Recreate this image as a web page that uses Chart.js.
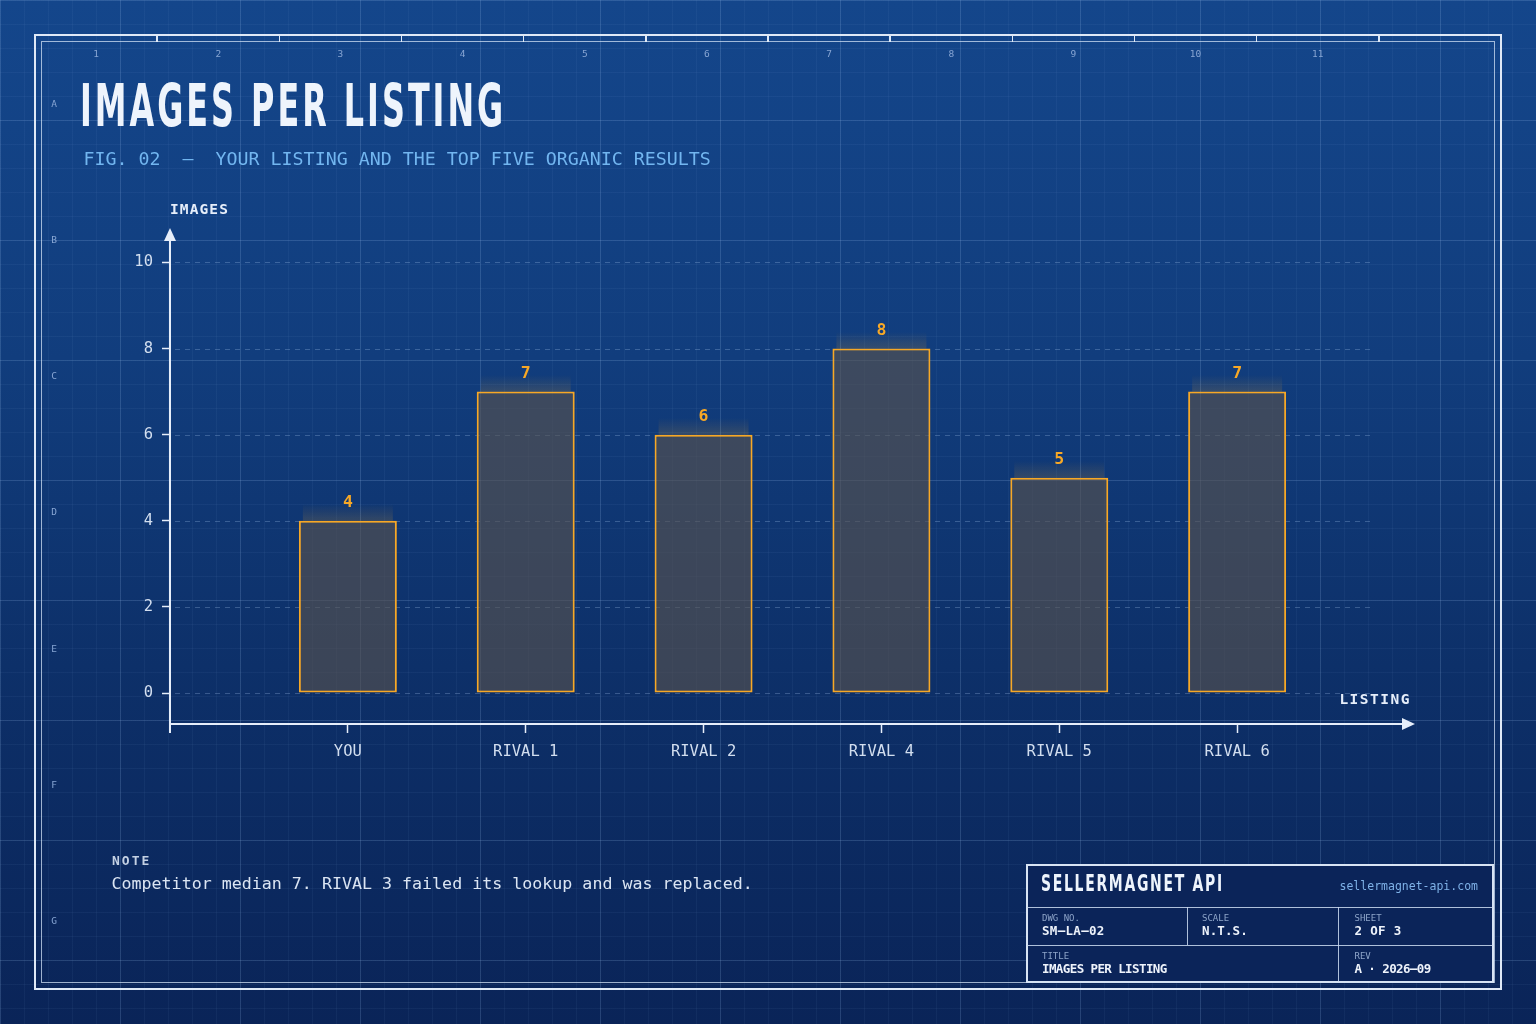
<!DOCTYPE html>
<html>
<head>
<meta charset="utf-8">
<script src="https://cdn.jsdelivr.net/npm/chart.js@4.4.1/dist/chart.umd.min.js"></script>
<style>
html,body{margin:0;padding:0;background:#0b2459;}
#stage{position:relative;width:1536px;height:1024px;overflow:hidden;
  font-family:"DejaVu Sans Mono",monospace;
  background-color:#0f3672;
  background-image:
    linear-gradient(to bottom, rgba(160,195,240,0.15) 1px, transparent 1px),
    linear-gradient(to right, rgba(160,195,240,0.15) 1px, transparent 1px),
    linear-gradient(to bottom, rgba(160,195,240,0.055) 1px, transparent 1px),
    linear-gradient(to right, rgba(160,195,240,0.055) 1px, transparent 1px),
    linear-gradient(180deg,#14468b 0%,#113d7d 35%,#0d3069 65%,#0a2458 100%);
  background-size:120px 120px,120px 120px,24px 24px,24px 24px,100% 100%;
}
.t{position:absolute;white-space:pre;line-height:1;z-index:4;}
.ln{position:absolute;z-index:4;}
#chart{position:absolute;left:0;top:0;z-index:2;}
.cond{font-family:"DejaVu Sans Condensed","DejaVu Sans",sans-serif;font-weight:bold;transform-origin:0 50%;}
.lbl{font-size:9px;color:#8ea5c9;}
.val{font-size:12.5px;font-weight:bold;color:#eef3fb;}
</style>
</head>
<body>
<div id="stage">
  <div class="ln" style="left:34px;top:34px;width:1468px;height:956px;box-sizing:border-box;border:2px solid #dfe9f7;"></div>
  <div class="ln" style="left:41px;top:41px;width:1454px;height:942px;box-sizing:border-box;border:1px solid rgba(210,225,245,0.75);"></div>

  <div class="t cond" id="title" data-fit="426" style="left:80px;top:76px;font-size:59px;letter-spacing:5px;color:#eef4fc;">IMAGES PER LISTING</div>
  <div class="t" style="left:83.5px;top:150.3px;font-size:18.3px;color:#72b6f0;">FIG. 02  —  YOUR LISTING AND THE TOP FIVE ORGANIC RESULTS</div>

  <div class="t" style="left:170px;top:202px;font-size:14.5px;font-weight:bold;letter-spacing:1.1px;color:#e6eefa;">IMAGES</div>
  <div class="t" style="right:125px;top:692px;font-size:14.5px;font-weight:bold;letter-spacing:1.5px;color:#e6eefa;">LISTING</div>

  <div class="t" style="left:112px;top:853.8px;font-size:13px;font-weight:bold;letter-spacing:2px;color:#c3d0e3;">NOTE</div>
  <div class="t" style="left:111.5px;top:876px;font-size:16.65px;color:#dbe5f3;">Competitor median 7. RIVAL 3 failed its lookup and was replaced.</div>

  <div class="ln" style="left:1026px;top:864px;width:468px;height:119px;box-sizing:border-box;border:2px solid #d8e4f4;background:#0b2459;z-index:3;"></div>
  <div class="ln" style="left:1027px;top:906.5px;width:466px;height:1px;background:rgba(205,220,242,0.85);"></div>
  <div class="ln" style="left:1027px;top:944.5px;width:466px;height:1px;background:rgba(205,220,242,0.85);"></div>
  <div class="ln" style="left:1186.5px;top:907px;width:1px;height:38px;background:rgba(205,220,242,0.85);"></div>
  <div class="ln" style="left:1338px;top:907px;width:1px;height:75px;background:rgba(205,220,242,0.85);"></div>

  <div class="t cond" data-fit="183" style="left:1041px;top:871.5px;font-size:23px;letter-spacing:2.5px;color:#eef4fc;">SELLERMAGNET API</div>
  <div class="t" style="right:58px;top:880.5px;font-size:11.5px;color:#7fb2e8;">sellermagnet-api.com</div>

  <div class="t lbl" style="left:1042px;top:913.7px;">DWG NO.</div>
  <div class="t lbl" style="left:1202px;top:913.7px;">SCALE</div>
  <div class="t lbl" style="left:1354.5px;top:913.7px;">SHEET</div>
  <div class="t lbl" style="left:1042px;top:951.7px;">TITLE</div>
  <div class="t lbl" style="left:1354.5px;top:951.7px;">REV</div>

  <div class="t val" style="left:1042px;top:925px;letter-spacing:0.3px;">SM–LA–02</div>
  <div class="t val" style="left:1202px;top:925px;letter-spacing:0.1px;">N.T.S.</div>
  <div class="t val" style="left:1354.5px;top:925px;letter-spacing:0.3px;">2 OF 3</div>
  <div class="t val" style="left:1042px;top:963px;letter-spacing:-0.6px;">IMAGES PER LISTING</div>
  <div class="t val" style="left:1354.5px;top:963px;letter-spacing:-0.6px;">A · 2026–09</div>

  <canvas id="chart" width="1536" height="1024"></canvas>
</div>
<script>
// ---- data ----
const CATEGORIES = ['YOU', 'RIVAL 1', 'RIVAL 2', 'RIVAL 4', 'RIVAL 5', 'RIVAL 6'];
const IMAGES = [4, 7, 6, 8, 5, 7];
const Y_TICKS = [0, 2, 4, 6, 8, 10];
const FRAME_COLUMNS = ['1','2','3','4','5','6','7','8','9','10','11'];
const FRAME_ROWS = ['A','B','C','D','E','F','G'];

// ---- frame decorations ----
const stage = document.getElementById('stage');
const colW = 1466 / 12, rowH = 954 / 7;
FRAME_COLUMNS.forEach((c, i) => {
  const tick = document.createElement('div');
  tick.className = 'ln';
  tick.style.cssText = `left:${35 + colW * (i + 1) - 0.75}px;top:35px;width:1.5px;height:7px;background:#dfe9f7;`;
  stage.appendChild(tick);
  const n = document.createElement('div');
  n.className = 't';
  n.textContent = c;
  n.style.cssText = `left:${35 + colW * (i + 0.5)}px;top:49.4px;font-size:9.5px;color:#87a5d3;transform:translateX(-50%);`;
  stage.appendChild(n);
});
FRAME_ROWS.forEach((r, i) => {
  const n = document.createElement('div');
  n.className = 't';
  n.textContent = r;
  n.style.cssText = `left:54px;top:${35 + rowH * (i + 0.5) - 4.6}px;font-size:9.5px;color:#87a5d3;transform:translateX(-50%);`;
  stage.appendChild(n);
});
function fitTexts() {
  document.querySelectorAll('[data-fit]').forEach(el => {
    el.style.transform = 'none';
    const w = el.offsetWidth;
    el.style.transform = `scaleX(${(+el.dataset.fit) / w})`;
  });
}
fitTexts();
if (document.fonts && document.fonts.ready) document.fonts.ready.then(fitTexts);

// ---- chart ----
Chart.defaults.font.family = '"DejaVu Sans Mono", monospace';
const AXIS = '#e6eefa';
const ORANGE = '#f7a826';

const blueprint = {
  id: 'blueprint',
  beforeDatasetsDraw(chart) {
    const { ctx, chartArea: a, scales: { y } } = chart;
    ctx.save();
    ctx.strokeStyle = 'rgba(170,200,240,0.28)';
    ctx.lineWidth = 1;
    ctx.setLineDash([5, 5]);
    Y_TICKS.forEach(v => {
      const py = Math.round(y.getPixelForValue(v)) + 0.5;
      ctx.beginPath();
      ctx.moveTo(a.left + 5, py);
      ctx.lineTo(a.right - 40, py);
      ctx.stroke();
    });
    ctx.setLineDash([]);
    chart.getDatasetMeta(0).data.forEach(bar => {
      const g = ctx.createLinearGradient(0, bar.y - 17, 0, bar.y);
      g.addColorStop(0, 'rgba(245,166,35,0)');
      g.addColorStop(1, 'rgba(245,166,35,0.16)');
      ctx.fillStyle = g;
      ctx.fillRect(bar.x - bar.width / 2 + 4, bar.y - 17, bar.width - 8, 17);
    });
    ctx.restore();
  },
  afterDatasetsDraw(chart) {
    const { ctx, chartArea: a } = chart;
    ctx.save();
    ctx.strokeStyle = AXIS;
    ctx.fillStyle = AXIS;
    ctx.lineWidth = 2;
    // y axis with arrow
    ctx.beginPath();
    ctx.moveTo(a.left, a.bottom + 9);
    ctx.lineTo(a.left, a.top + 11);
    ctx.stroke();
    ctx.beginPath();
    ctx.moveTo(a.left, a.top);
    ctx.lineTo(a.left - 6, a.top + 13);
    ctx.lineTo(a.left + 6, a.top + 13);
    ctx.closePath();
    ctx.fill();
    // x axis with arrow
    ctx.beginPath();
    ctx.moveTo(a.left, a.bottom);
    ctx.lineTo(a.right - 11, a.bottom);
    ctx.stroke();
    ctx.beginPath();
    ctx.moveTo(a.right, a.bottom);
    ctx.lineTo(a.right - 13, a.bottom - 6);
    ctx.lineTo(a.right - 13, a.bottom + 6);
    ctx.closePath();
    ctx.fill();
    // value labels
    ctx.font = 'bold 16.5px "DejaVu Sans Mono"';
    ctx.fillStyle = ORANGE;
    ctx.textAlign = 'center';
    ctx.textBaseline = 'middle';
    chart.getDatasetMeta(0).data.forEach((bar, i) => {
      ctx.fillText(String(IMAGES[i]), bar.x, bar.y - 18);
    });
    ctx.restore();
  }
};

new Chart(document.getElementById('chart'), {
  type: 'bar',
  data: {
    datasets: [{
      label: 'Images',
      data: IMAGES.map((v, i) => ({ x: i, y: v })),
      backgroundColor: 'rgba(88,82,78,0.62)',
      borderColor: ORANGE,
      borderWidth: 2,
      borderSkipped: false,
      barPercentage: 0.551,
      categoryPercentage: 1
    }]
  },
  options: {
    responsive: false,
    maintainAspectRatio: false,
    animation: false,
    layout: { padding: { left: 0, top: 228, right: 121, bottom: 0 } },
    plugins: { legend: { display: false }, tooltip: { enabled: false } },
    scales: {
      x: {
        type: 'linear',
        min: -1,
        max: 6,
        offset: false,
        afterBuildTicks: s => { s.ticks = CATEGORIES.map((c, i) => ({ value: i })); },
        afterFit: s => { s.height = 300; },
        grid: { display: true, offset: false, drawOnChartArea: false, drawTicks: true, tickLength: 9, tickWidth: 1.5, tickColor: AXIS, color: AXIS },
        border: { display: false },
        ticks: {
          callback: v => (CATEGORIES[v] !== undefined ? CATEGORIES[v] : ''),
          color: '#d2deef',
          font: { size: 15.5 },
          padding: 10,
          maxRotation: 0,
          autoSkip: false
        }
      },
      y: {
        type: 'linear',
        min: -0.72,
        max: 10.8,
        afterBuildTicks: s => { s.ticks = Y_TICKS.map(v => ({ value: v })); },
        afterFit: s => { s.width = 170; },
        grid: { display: true, drawOnChartArea: false, drawTicks: true, tickLength: 8, tickWidth: 1.5, tickColor: AXIS, color: AXIS },
        border: { display: false },
        ticks: { color: '#d2deef', font: { size: 15.5 }, padding: 9 }
      }
    }
  },
  plugins: [blueprint]
});
</script>
</body>
</html>
